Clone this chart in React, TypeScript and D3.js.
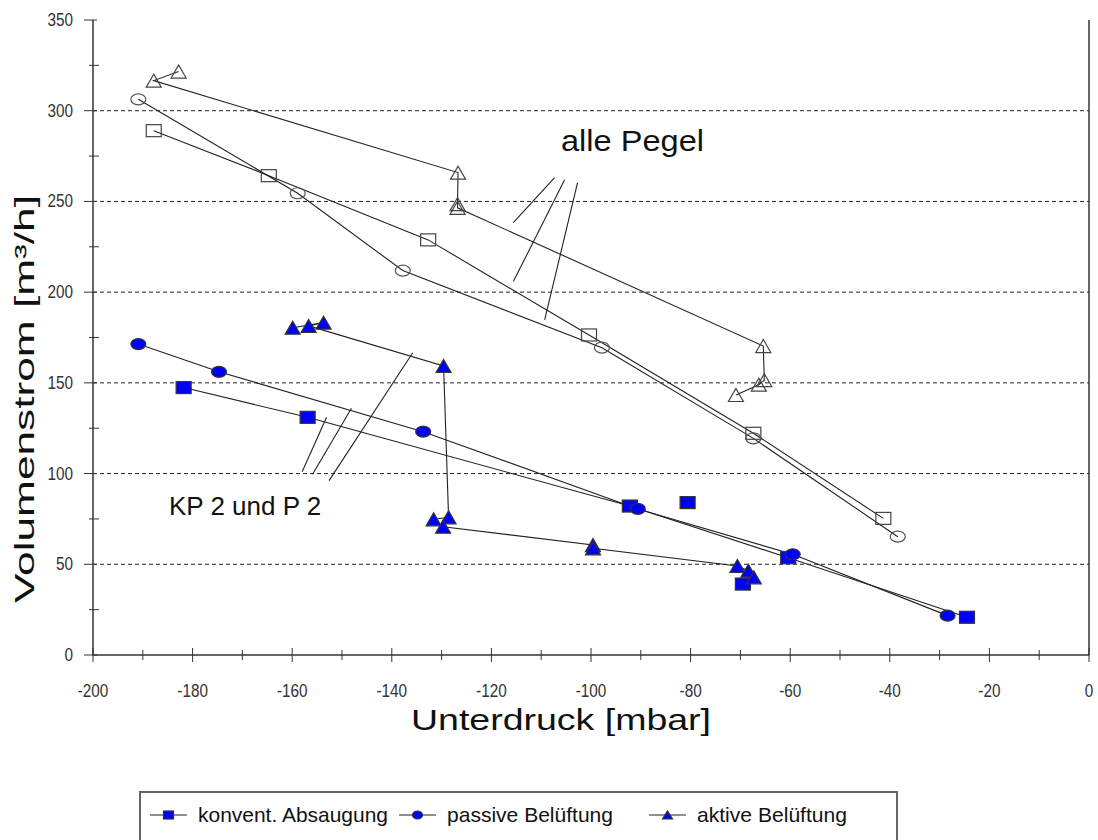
import React, { useRef, useEffect } from "react";
import * as d3 from "d3";

// alle Pegel (open markers)
const pegelSquareX = [-187.8, -164.7, -132.7, -100.4, -67.4, -41.3];
const pegelSquareY = [289, 264.2, 228.8, 176.4, 122.2, 75.3];
const pegelCircleX = [-190.9, -158.9, -137.8, -97.8, -67.4, -38.4];
const pegelCircleY = [306.3, 254.5, 211.9, 169.4, 119.4, 65.2];
const pegelTriX = [-182.8, -187.8, -126.7, -126.8, -126.8, -65.4, -65.2, -66.3, -70.9];
const pegelTriY = [321.6, 316.6, 265.9, 248.5, 246.5, 170.3, 151.5, 149, 143.3];

// KP 2 und P 2 (blue markers)
const kpSquareX = [-181.8, -156.9, -92.2, -60.4, -24.5];
const kpSquareY = [147.4, 131.0, 82.1, 53.6, 20.8];
const kpSquareSingleX = [-80.6, -69.5];
const kpSquareSingleY = [84, 39.1];
const kpCircleX = [-190.9, -174.7, -133.7, -90.6, -59.5, -28.4];
const kpCircleY = [171.4, 156.1, 123.1, 80.5, 55.5, 21.7];
const kpTriX = [-159.9, -153.7, -156.7, -129.6, -128.6, -131.6, -129.7, -99.6, -99.6, -70.6, -68.4, -67.3];
const kpTriY = [180.4, 183.2, 181.4, 159.3, 75.9, 74.8, 70.7, 60.6, 58.8, 49.1, 46.5, 42.8];

// pointer lines of the two labels
const pegelNoteX1 = [-107.3, -105.3, -102.7];
const pegelNoteY1 = [263.1, 261.9, 260.4];
const pegelNoteX2 = [-115.6, -115.6, -109.3];
const pegelNoteY2 = [238.3, 205.8, 184.7];
const kpNoteX1 = [-158.0, -155.9, -152.6];
const kpNoteY1 = [101.0, 99.6, 96.1];
const kpNoteX2 = [-153.1, -148.1, -135.8];
const kpNoteY2 = [131.0, 136.0, 166.6];

const xTicks = [-200, -180, -160, -140, -120, -100, -80, -60, -40, -20, 0];
const yTicks = [0, 50, 100, 150, 200, 250, 300, 350];
const legendNames = ["konvent. Absaugung", "passive Belüftung", "aktive Belüftung"];

const W = 1098, H = 840;
const FONT = "'Liberation Sans', Arial, sans-serif";

function zip(xs, ys) {
  return xs.map((x, i) => ({ x: x, y: ys[i] }));
}

// squeeze text a bit, the original uses a narrow rendering
function narrow(sel, k) {
  sel.each(function () {
    const n = this.getComputedTextLength();
    d3.select(this).attr("textLength", n * k).attr("lengthAdjust", "spacingAndGlyphs");
  });
}

function App() {
  const ref = useRef(null);

  useEffect(() => {
    const svg = d3.select(ref.current);
    svg.selectAll("*").remove();

    const x = d3.scaleLinear().domain([-200, 0]).range([93, 1089]);
    const y = d3.scaleLinear().domain([0, 350]).range([655, 20]);

    svg.append("rect").attr("width", W).attr("height", H).attr("fill", "#fff");

    // grid
    svg.append("g").selectAll("line")
      .data(yTicks.filter(d => d > 0 && d < 350))
      .enter().append("line")
      .attr("x1", x(-200)).attr("x2", x(0))
      .attr("y1", d => y(d)).attr("y2", d => y(d))
      .attr("stroke", "#222").attr("stroke-width", 1)
      .attr("stroke-dasharray", "4,3");

    // frame
    svg.append("line").attr("x1", x(0)).attr("x2", x(0)).attr("y1", y(0)).attr("y2", y(350))
      .attr("stroke", "#333").attr("stroke-width", 1.5);

    // x axis
    const xa = svg.append("g").attr("transform", "translate(0," + y(0) + ")");
    xa.append("line").attr("x1", x(-200)).attr("x2", x(0)).attr("stroke", "#333").attr("stroke-width", 1.5);
    xa.selectAll(".minor").data(d3.range(-190, 0, 20)).enter().append("line")
      .attr("x1", d => x(d)).attr("x2", d => x(d)).attr("y1", -5).attr("y2", 5)
      .attr("stroke", "#333");
    xa.selectAll(".major").data(xTicks).enter().append("line")
      .attr("x1", d => x(d)).attr("x2", d => x(d)).attr("y1", -7).attr("y2", 7)
      .attr("stroke", "#333");
    xa.selectAll("text").data(xTicks).enter().append("text")
      .attr("x", d => x(d)).attr("y", 42)
      .attr("text-anchor", "middle").attr("font-family", FONT).attr("font-size", 18)
      .attr("fill", "#333").text(d => d)
      .call(narrow, 0.85);

    // y axis
    const ya = svg.append("g").attr("transform", "translate(" + x(-200) + ",0)");
    ya.append("line").attr("y1", y(0)).attr("y2", y(350)).attr("stroke", "#333").attr("stroke-width", 1.5);
    ya.selectAll(".minor").data(d3.range(25, 350, 50)).enter().append("line")
      .attr("y1", d => y(d)).attr("y2", d => y(d)).attr("x1", -4).attr("x2", 6)
      .attr("stroke", "#333");
    ya.selectAll(".major").data(yTicks).enter().append("line")
      .attr("y1", d => y(d)).attr("y2", d => y(d)).attr("x1", -9).attr("x2", 4)
      .attr("stroke", "#333");
    ya.selectAll("text").data(yTicks).enter().append("text")
      .attr("x", -20).attr("y", d => y(d) + 6)
      .attr("text-anchor", "end").attr("font-family", FONT).attr("font-size", 18)
      .attr("fill", "#333").text(d => d)
      .call(narrow, 0.85);

    // axis titles
    svg.append("text").attr("x", 561).attr("y", 730).attr("text-anchor", "middle")
      .attr("font-family", FONT).attr("font-size", 30).attr("fill", "#111")
      .attr("textLength", 300).attr("lengthAdjust", "spacingAndGlyphs")
      .text("Unterdruck [mbar]");
    svg.append("text").attr("transform", "translate(34,399) rotate(-90)")
      .attr("text-anchor", "middle").attr("font-family", FONT).attr("font-size", 28).attr("fill", "#111")
      .attr("textLength", 408).attr("lengthAdjust", "spacingAndGlyphs")
      .text("Volumenstrom [m³/h]");

    const line = d3.line().x(d => x(d.x)).y(d => y(d.y));
    const addLine = (pts) => svg.append("path").datum(pts)
      .attr("fill", "none").attr("stroke", "#222").attr("stroke-width", 1.1).attr("d", line);

    // pointer lines
    pegelNoteX1.forEach((v, i) => addLine([{ x: v, y: pegelNoteY1[i] }, { x: pegelNoteX2[i], y: pegelNoteY2[i] }]));
    kpNoteX1.forEach((v, i) => addLine([{ x: v, y: kpNoteY1[i] }, { x: kpNoteX2[i], y: kpNoteY2[i] }]));

    const pegelSq = zip(pegelSquareX, pegelSquareY);
    const pegelCi = zip(pegelCircleX, pegelCircleY);
    const pegelTr = zip(pegelTriX, pegelTriY);
    const kpSq = zip(kpSquareX, kpSquareY);
    const kpSqSingle = zip(kpSquareSingleX, kpSquareSingleY);
    const kpCi = zip(kpCircleX, kpCircleY);
    const kpTr = zip(kpTriX, kpTriY);

    [pegelSq, pegelCi, pegelTr, kpSq, kpCi, kpTr].forEach(addLine);

    const square = (g, pts, fill, stroke, w, h) => g.selectAll(null).data(pts).enter().append("rect")
      .attr("x", d => x(d.x) - w / 2).attr("y", d => y(d.y) - h / 2)
      .attr("width", w).attr("height", h)
      .attr("fill", fill).attr("stroke", stroke).attr("stroke-width", 1.2);
    const circle = (g, pts, fill, stroke, w, h) => g.selectAll(null).data(pts).enter().append("ellipse")
      .attr("cx", d => x(d.x)).attr("cy", d => y(d.y))
      .attr("rx", w / 2).attr("ry", h / 2)
      .attr("fill", fill).attr("stroke", stroke).attr("stroke-width", 1.2);
    const tri = (g, pts, fill, stroke, w, h) => g.selectAll(null).data(pts).enter().append("path")
      .attr("d", d => {
        const cx = x(d.x), cy = y(d.y);
        return "M" + (cx - w / 2) + "," + (cy + h / 2) + "L" + (cx + w / 2) + "," + (cy + h / 2) + "L" + cx + "," + (cy - h / 2) + "Z";
      })
      .attr("fill", fill).attr("stroke", stroke).attr("stroke-width", 1.2);

    const marks = svg.append("g");
    square(marks, pegelSq, "none", "#444", 15, 12);
    circle(marks, pegelCi, "none", "#555", 15, 11);
    tri(marks, pegelTr, "none", "#444", 15, 13);
    square(marks, kpSq.concat(kpSqSingle), "#0000ff", "#333", 15, 12);
    circle(marks, kpCi, "#0000ff", "#333", 15, 11);
    tri(marks, kpTr, "#0000ff", "#333", 15, 13);

    // labels
    svg.append("text").attr("x", 561).attr("y", 151).attr("font-family", FONT)
      .attr("font-size", 30).attr("fill", "#111")
      .attr("textLength", 143).attr("lengthAdjust", "spacingAndGlyphs").text("alle Pegel");
    svg.append("text").attr("x", 169).attr("y", 515).attr("font-family", FONT)
      .attr("font-size", 26).attr("fill", "#111").text("KP 2 und P 2");

    // legend
    const lg = svg.append("g");
    lg.append("rect").attr("x", 140).attr("y", 792).attr("width", 757).attr("height", 60)
      .attr("fill", "#fff").attr("stroke", "#666").attr("stroke-width", 2);
    const lx = [150, 399, 649];
    const lw = [190, 166, 150];
    const shapes = [square, circle, tri];
    legendNames.forEach((name, i) => {
      lg.append("line").attr("x1", lx[i]).attr("x2", lx[i] + 37).attr("y1", 815).attr("y2", 815)
        .attr("stroke", "#222").attr("stroke-width", 1.2);
      const c = { x: x.invert(lx[i] + 18.5), y: y.invert(815) };
      shapes[i](lg, [c], "#0000ff", "#333", 10, 8);
      lg.append("text").attr("x", lx[i] + 48).attr("y", 822).attr("font-family", FONT)
        .attr("font-size", 21).attr("fill", "#111")
        .attr("textLength", lw[i]).attr("lengthAdjust", "spacingAndGlyphs").text(name);
    });
  }, []);

  return (
    <svg ref={ref} width={W} height={H}
      style={{ position: "absolute", left: 0, top: 0, display: "block", background: "#fff" }} />
  );
}

export default App;
